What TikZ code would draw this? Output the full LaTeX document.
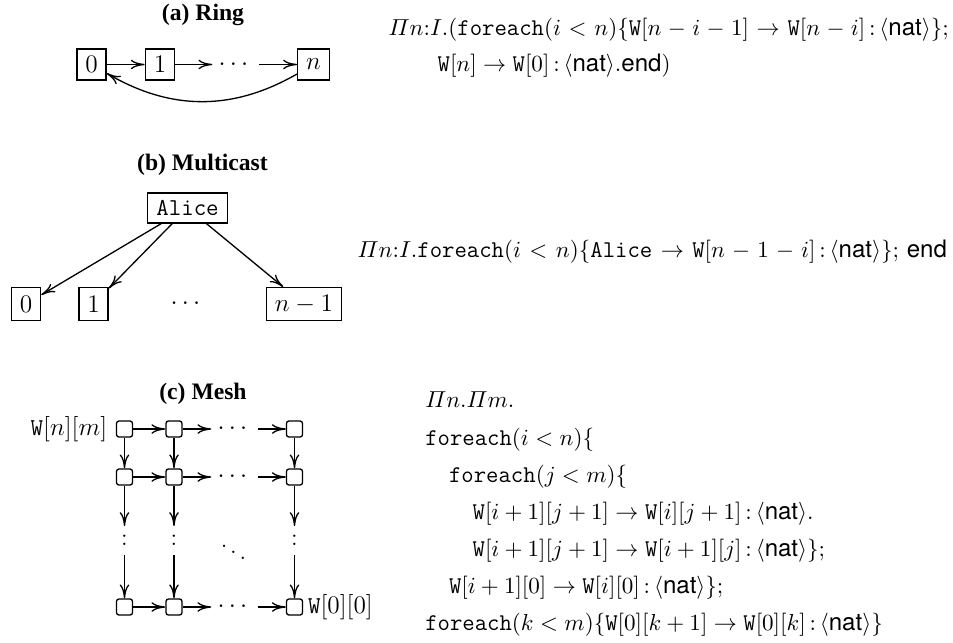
\documentclass[tikz,border=0pt]{standalone}
\usepackage{amsmath}
\usepackage{fontspec}
\newfontfamily\helv{TeX Gyre Heros}
\newfontfamily\headfont{Liberation Serif}
\usetikzlibrary{arrows.meta}
\newcommand\hv[1]{\text{\helv #1}}
\newcommand\tw{\texttt{W}}
\newcommand\ty{\langle\hv{nat}\rangle}
\begin{document}
\begin{tikzpicture}[x=0.474pt,y=-0.474pt,line width=0.62pt,
  every node/.style={inner sep=0pt},
  title/.style={font=\headfont\bfseries\fontsize{11.2}{13}\selectfont},
  code/.style={anchor=base west,font=\fontsize{11.4}{13}\selectfont},
  loose/.style={execute at begin node={\thickmuskip=#1\medmuskip=\thickmuskip\advance\medmuskip by -1mu}},
  dfont/.style={font=\fontsize{11.5}{13}\selectfont},
  box/.style={draw,dfont,inner xsep=4pt,minimum height=14.7pt},
  mbox/.style={box,minimum height=15.6pt},
  cell/.style={draw,rounded corners=1.2pt,minimum size=7.6pt},
  hdots/.style={dfont,minimum width=21.3pt},
  vdot/.style={dfont,minimum height=13.1pt},
  link/.style={-{To[length=6.6pt,width=4.6pt]}}]
\useasboundingbox (0,0) rectangle (953,642);

% ---------- (a) Ring ----------
\node[title] (ta) at (203,15) {(a) Ring};
\node[box] (r0) at (91.5,64.5) {$0$};
\node[box] (r1) at (160,64.5) {$1$};
\node[hdots] (rd) at (235.5,64.5) {$\cdots$};
\node[box] (rn) at (313.5,64.5) {$n$};
\draw[link] (r0) -- (r1);
\draw[link] (r1) -- (rd);
\draw[link] (rd) -- (rn);
\draw[link] (rn) to[bend left=30] (r0);
\node[code,loose=6mu] (ca1) at (388,35) {$\varPi n{:}I.(\texttt{foreach}(i<n)\{\tw[n-i-1]\rightarrow\tw[n-i]\,{:}\,\ty\};$};
\node[code] (ca2) at (437,71) {$\tw[n]\rightarrow\tw[0]\,{:}\,\ty.\hv{end})$};

% ---------- (b) Multicast ----------
\node[title] (tb) at (202.5,165) {(b) Multicast};
\node[box,minimum height=14.2pt] (alice) at (187.5,208) {\texttt{Alice}};
\node[mbox] (m0) at (26,304) {$0$};
\node[mbox] (m1) at (93.5,304) {$1$};
\node[hdots] (md) at (187.5,304) {$\cdots$};
\node[mbox] (mn) at (304,304) {$n-1$};
\draw[link] (alice) -- (m0);
\draw[link] (alice) -- (m1);
\draw[link] (alice) -- (mn);
\node[code,loose=6.6mu] (cb) at (357,257) {$\varPi n{:}I.\texttt{foreach}(i<n)\{\texttt{Alice}\rightarrow\tw[n-1-i]\,{:}\,\ty\};\,\hv{end}$};

% ---------- (c) Mesh ----------
\node[title] (tc) at (203,393.5) {(c) Mesh};
\foreach \r/\y in {1/429,2/477,4/607}{
  \node[cell] (c\r1) at (124.5,\y) {};
  \node[cell] (c\r2) at (174,\y) {};
  \node[hdots] (c\r d) at (234.5,\y) {$\cdots$};
  \node[cell] (c\r3) at (294.5,\y) {};
  \draw[link] (c\r1) -- (c\r2);
  \draw[link] (c\r2) -- (c\r d);
  \draw[link] (c\r d) -- (c\r3);
}
\foreach \k/\x in {1/124.5,2/174,3/294.5}{
  \node[vdot] (v\k) at (\x,540.5) {:};
  \draw[link] (c1\k) -- (c2\k);
  \draw[link] (c2\k) -- (v\k);
  \draw[link] (v\k) -- (c4\k);
}
\node[dfont] (dd) at (233.5,546) {$\ddots$};
\node[dfont,anchor=east] (lnm) at ([xshift=-3.8pt]c11.west) {$\tw[n][m]$};
\node[dfont,anchor=west] (l00) at ([xshift=2pt]c43.east) {$\tw[0][0]$};

\node[code] (cc1) at (424.6,407) {$\varPi n.\varPi m.$};
\node[code] (cc2) at (424.6,445) {$\texttt{foreach}(i<n)\{$};
\node[code] (cc3) at (448.4,482) {$\texttt{foreach}(j<m)\{$};
\node[code] (cc4) at (472,519) {$\tw[i+1][j+1]\rightarrow\tw[i][j+1]\,{:}\,\ty.$};
\node[code] (cc5) at (472,556) {$\tw[i+1][j+1]\rightarrow\tw[i+1][j]\,{:}\,\ty\};$};
\node[code] (cc6) at (448.4,593) {$\tw[i+1][0]\rightarrow\tw[i][0]\,{:}\,\ty\};$};
\node[code] (cc7) at (424.6,630) {$\texttt{foreach}(k<m)\{\tw[0][k+1]\rightarrow\tw[0][k]\,{:}\,\ty\}$};
\end{tikzpicture}
\end{document}
